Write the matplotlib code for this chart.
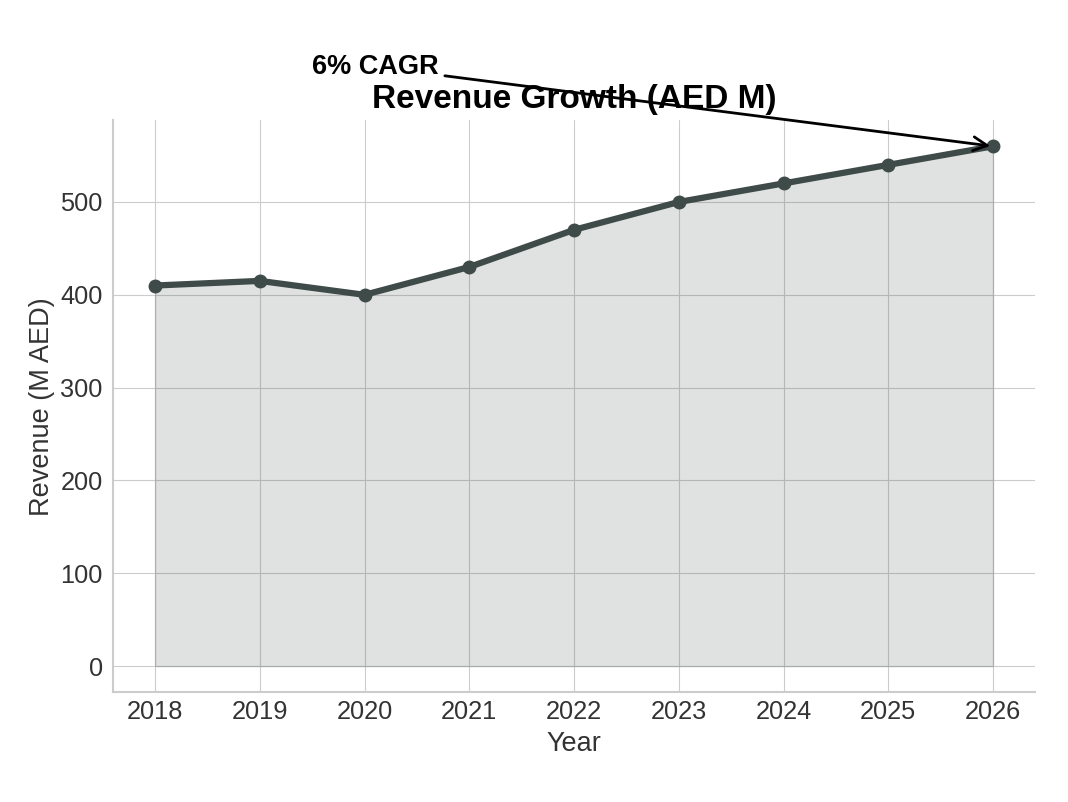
import matplotlib
matplotlib.use("Agg")
import matplotlib.pyplot as plt
import seaborn as sns

years = [2018, 2019, 2020, 2021, 2022, 2023, 2024, 2025, 2026]
revenue = [410, 415, 400, 430, 470, 500, 520, 540, 560]

sns.set_style("whitegrid")
plt.rcParams['font.family'] = ['Liberation Sans', 'DejaVu Sans']

line_color = '#3e4b48'

fig, ax = plt.subplots(figsize=(10.68, 8.02), dpi=100)
fig.subplots_adjust(left=0.106, right=0.969, top=0.85, bottom=0.137)

ax.fill_between(years, revenue, color=line_color, alpha=0.16)
ax.plot(years, revenue, '-o', color=line_color, linewidth=4.5, markersize=9)

ax.annotate('6% CAGR', xy=(years[-1], revenue[-1]), xytext=(2019.5, 638),
            fontsize=19.5, fontweight='bold', color='black',
            arrowprops=dict(arrowstyle='->', color='black', lw=2, mutation_scale=25),
            annotation_clip=False)

ax.set_title('Revenue Growth (AED M)', fontsize=24, fontweight='bold', color='black', pad=9)
ax.set_xlabel('Year', fontsize=19.5, color='#333333', labelpad=5)
ax.set_ylabel('Revenue (M AED)', fontsize=19.5, color='#333333')
ax.set_xticks(years)
ax.tick_params(axis='both', labelsize=18.3, colors='#333333')
ax.tick_params(axis='x', pad=2)
ax.tick_params(axis='y', pad=4)
sns.despine(ax=ax)
for s in ['left', 'bottom']:
    ax.spines[s].set_color('#cccccc')
    ax.spines[s].set_linewidth(1.5)

plt.savefig('out.png')
